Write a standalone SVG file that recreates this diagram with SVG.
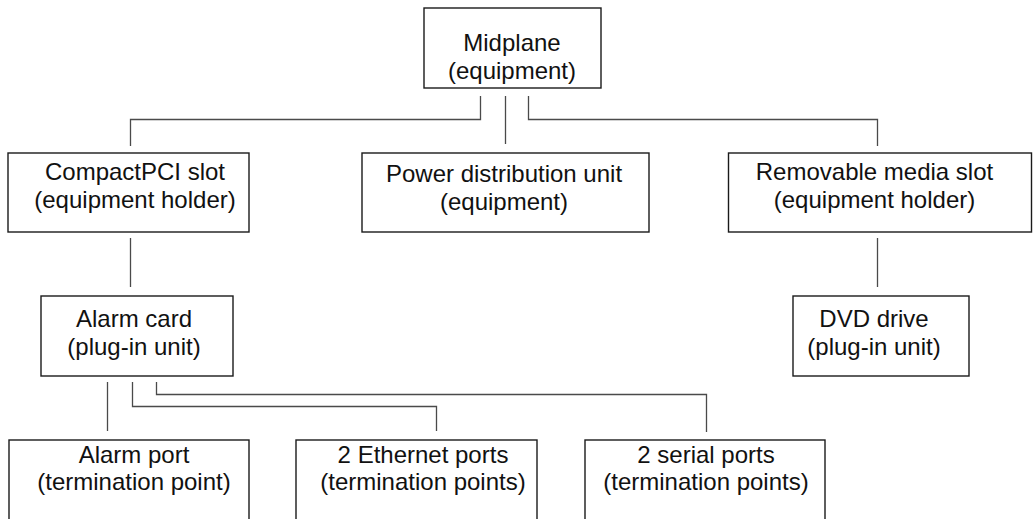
<svg xmlns="http://www.w3.org/2000/svg" width="1033" height="519" viewBox="0 0 1033 519">
  <style>
    .box { fill: #ffffff; stroke: #1a1a1a; stroke-width: 1.4; }
    .lbl { font-family: "Liberation Sans", Arial, Helvetica, sans-serif; font-size: 24px; fill: #111111; text-anchor: middle; }
    .wire { fill: none; stroke: #4a4a4a; stroke-width: 1.3; }
  </style>
  <rect width="1033" height="519" fill="#ffffff"/>

  <!-- connectors -->
  <g id="connectors">
    <path class="wire" d="M480.5,96 V119.5 H130.5 V146"/>
    <path class="wire" d="M505.5,96 V144"/>
    <path class="wire" d="M528.5,96 V119.5 H877.5 V146"/>
    <path class="wire" d="M130.5,238 V287"/>
    <path class="wire" d="M877.5,238 V287"/>
    <path class="wire" d="M107.5,382 V431"/>
    <path class="wire" d="M132.5,382 V406.5 H436.5 V431"/>
    <path class="wire" d="M156.5,382 V394.5 H706.5 V432"/>
  </g>

  <!-- top level -->
  <g id="midplane">
    <rect class="box" x="424" y="8" width="177" height="80"/>
    <text class="lbl" x="512" y="51">Midplane</text>
    <text class="lbl" x="512" y="79">(equipment)</text>
  </g>

  <!-- second level -->
  <g id="compactpci-slot">
    <rect class="box" x="8" y="153" width="241" height="79"/>
    <text class="lbl" x="135" y="180">CompactPCI slot</text>
    <text class="lbl" x="135" y="208">(equipment holder)</text>
  </g>
  <g id="power-distribution-unit">
    <rect class="box" x="362" y="153" width="287" height="79"/>
    <text class="lbl" x="504" y="182">Power distribution unit</text>
    <text class="lbl" x="504" y="210">(equipment)</text>
  </g>
  <g id="removable-media-slot">
    <rect class="box" x="728.5" y="153" width="303" height="79"/>
    <text class="lbl" x="874.5" y="180">Removable media slot</text>
    <text class="lbl" x="874.5" y="208">(equipment holder)</text>
  </g>

  <!-- third level -->
  <g id="alarm-card">
    <rect class="box" x="41" y="296" width="192" height="80"/>
    <text class="lbl" x="134" y="327">Alarm card</text>
    <text class="lbl" x="134" y="355">(plug-in unit)</text>
  </g>
  <g id="dvd-drive">
    <rect class="box" x="793" y="296" width="176" height="80"/>
    <text class="lbl" x="874" y="327">DVD drive</text>
    <text class="lbl" x="874" y="355">(plug-in unit)</text>
  </g>

  <!-- termination points -->
  <g id="alarm-port">
    <rect class="box" x="9" y="440" width="240" height="100"/>
    <text class="lbl" x="134" y="463">Alarm port</text>
    <text class="lbl" x="134" y="490">(termination point)</text>
  </g>
  <g id="ethernet-ports">
    <rect class="box" x="296" y="440" width="241" height="100"/>
    <text class="lbl" x="423" y="463">2 Ethernet ports</text>
    <text class="lbl" x="423" y="490">(termination points)</text>
  </g>
  <g id="serial-ports">
    <rect class="box" x="585" y="440" width="240" height="100"/>
    <text class="lbl" x="706" y="463">2 serial ports</text>
    <text class="lbl" x="706" y="490">(termination points)</text>
  </g>
</svg>
